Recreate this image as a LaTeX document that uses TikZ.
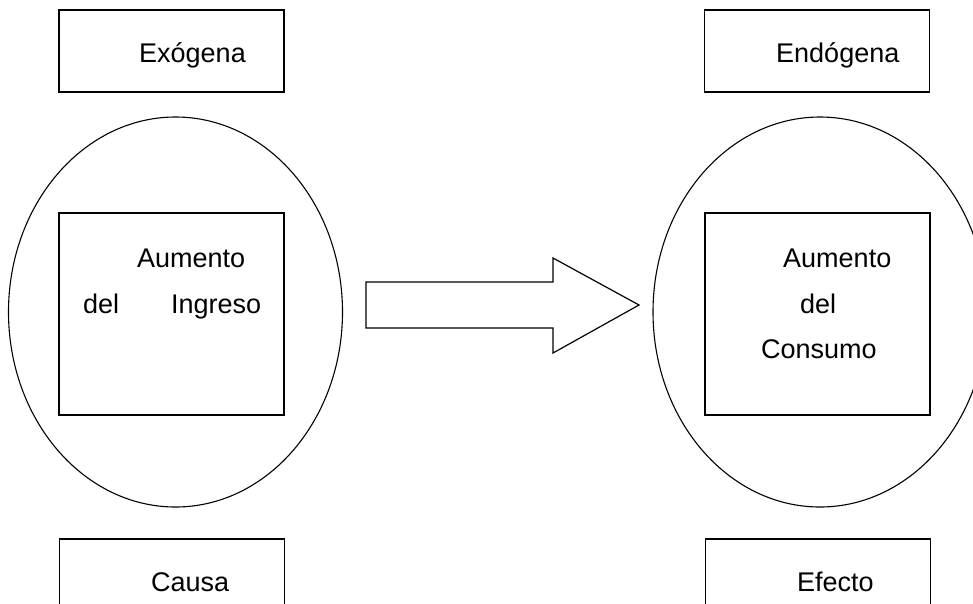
\documentclass[tikz,border=0pt]{standalone}
\usepackage{fontspec}
\setmainfont{Liberation Sans}
\usetikzlibrary{shapes}
\tikzstyle{box}  = [draw, rectangle, line width=1.3pt, inner sep=0pt, minimum width=225pt]
\tikzstyle{oval} = [draw, ellipse, line width=1.1pt, inner sep=0pt, minimum width=334pt, minimum height=390pt]
\tikzstyle{txt}  = [anchor=base west, inner sep=0pt, font=\fontsize{27}{32}\selectfont]

\begin{document}
\begin{tikzpicture}[x=1pt, y=-1pt]

\useasboundingbox (0,0) rectangle (973,603);

% ovals
\node [oval] at (175.5, 312) (causeoval)  {};
\node [oval] at (820  , 312) (effectoval) {};

% boxes
\node [box, minimum height=82pt]  at (171.5,  51) (exo)    {};
\node [box, minimum height=82pt]  at (817  ,  51) (endo)   {};
\node [box, minimum height=202pt] at (171.5, 314) (ingreso) {};
\node [box, minimum height=202pt] at (817.5, 314) (consumo) {};
\node [box, minimum height=82pt]  at (172  , 580) (causa)  {};
\node [box, minimum height=82pt]  at (818  , 580) (efecto) {};

% texts
\node [txt] at (139,  62) (exolbl)  {Exógena};
\node [txt] at (776,  62) (endolbl) {Endógena};
\node [txt] at (137, 267) (aum1)    {Aumento};
\node [txt] at ( 83, 313) (del1)    {del};
\node [txt] at (171, 313) (ing)     {Ingreso};
\node [txt] at (783, 267) (aum2)    {Aumento};
\node [txt] at (800, 313) (del2)    {del};
\node [txt] at (761, 358) (cons)    {Consumo};
\node [txt] at (151, 591) (causalbl)  {Causa};
\node [txt] at (797, 591) (efectolbl) {Efecto};

% block arrow
\draw [line width=1.2pt, line join=miter]
      (366,282) -- (553,282) -- (553,258) -- (639,305) -- (553,353)
      -- (553,328) -- (366,328) -- cycle;

\end{tikzpicture}
\end{document}
